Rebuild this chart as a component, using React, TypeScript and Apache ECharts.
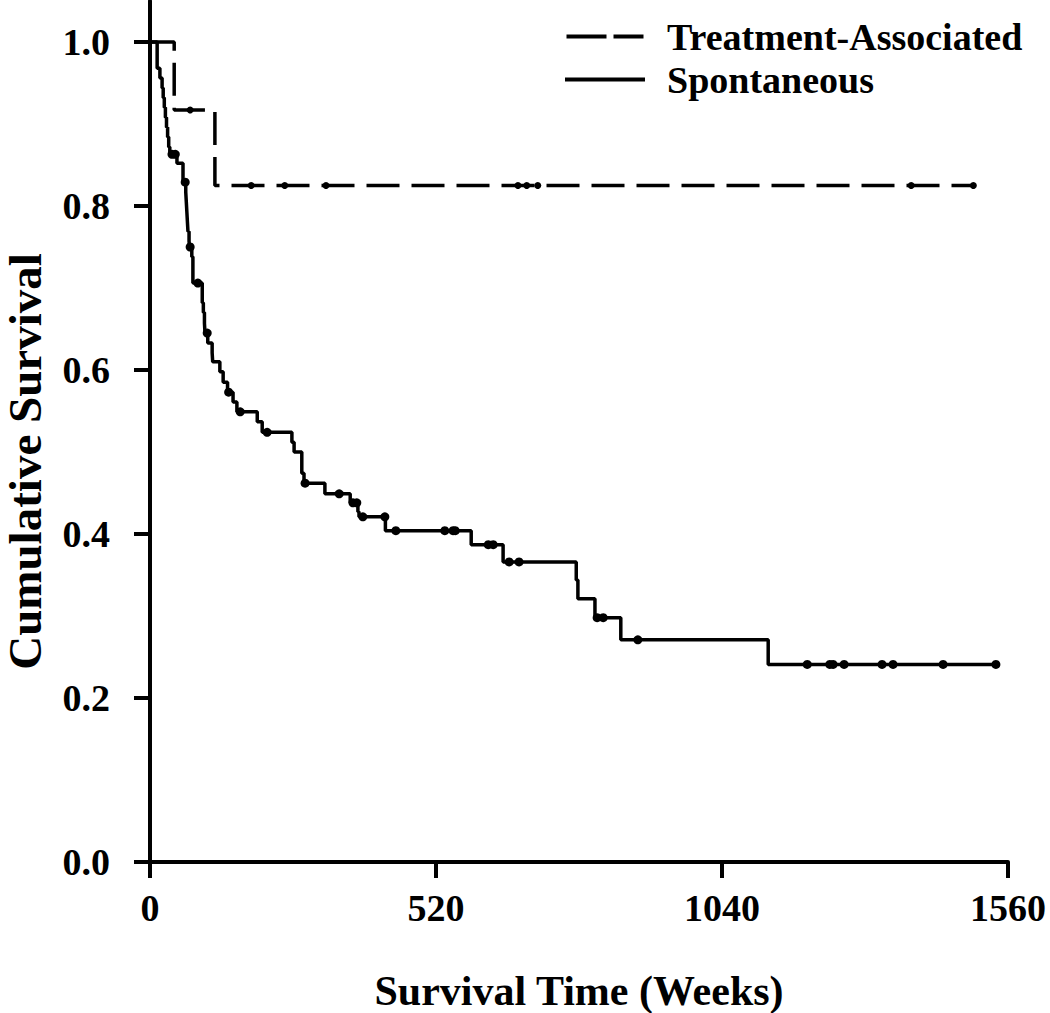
import React, { useEffect, useRef } from "react";
import * as echarts from "echarts";

// Spontaneous: event times (weeks) and survival after each step
const spontTimes = [0, 13, 18, 22, 24, 26, 28, 30, 32, 34, 36, 49, 60, 65, 66, 67, 68, 69, 71, 72, 76, 78, 95, 97, 99, 100, 105, 113, 114, 127, 133, 141, 151, 158, 195, 204, 258, 262, 276, 280, 318, 364, 378, 380, 428, 584, 642, 775, 778, 809, 856, 1124, 1538];
const spontSurv = [1.0, 0.968, 0.956, 0.944, 0.932, 0.92, 0.908, 0.896, 0.884, 0.872, 0.863, 0.852, 0.829, 0.817, 0.805, 0.793, 0.781, 0.769, 0.757, 0.75, 0.738, 0.706, 0.682, 0.67, 0.657, 0.645, 0.633, 0.621, 0.61, 0.598, 0.585, 0.573, 0.561, 0.549, 0.537, 0.524, 0.512, 0.5, 0.474, 0.462, 0.449, 0.438, 0.427, 0.421, 0.404, 0.387, 0.366, 0.344, 0.321, 0.298, 0.271, 0.241, 0.241];
const spontCensored = [40, 46, 64, 73, 87, 104, 143, 164, 213, 282, 344, 369, 376, 387, 427, 447, 536, 551, 555, 615, 624, 653, 671, 813, 824, 887, 1195, 1236, 1242, 1262, 1331, 1351, 1442, 1538];

// Treatment-Associated
const treatTimes = [0, 44, 118, 1497];
const treatSurv = [1.0, 0.917, 0.825, 0.825];
const treatCensored = [73, 184, 245, 320, 669, 685, 705, 1384, 1497];

const xTicks = [0, 520, 1040, 1560];
const yTicks = [0, 0.2, 0.4, 0.6, 0.8, 1.0];

const FONT = "'Liberation Serif', 'Times New Roman', serif";

function survAt(times: number[], surv: number[], t: number) {
  let s = surv[0];
  for (let i = 0; i < times.length; i++) {
    if (times[i] <= t) s = surv[i];
  }
  return s;
}

export default function App() {
  const ref = useRef<HTMLDivElement>(null);
  useEffect(() => {
    if (!ref.current) return;
    const chart = echarts.init(ref.current, undefined, { renderer: "svg" });
    const spontLine = spontTimes.map((t, i) => [t, spontSurv[i]]);
    const treatLine = treatTimes.map((t, i) => [t, treatSurv[i]]);
    const spontMarks = spontCensored.map((t) => [t, survAt(spontTimes, spontSurv, t)]);
    const treatMarks = treatCensored.map((t) => [t, survAt(treatTimes, treatSurv, t)]);
    chart.setOption({
      animation: false,
      backgroundColor: "#ffffff",
      grid: { left: 150, right: 42, top: 1, bottom: 151, outerBoundsMode: "none" },
      legend: {
        orient: "vertical",
        left: 560,
        top: 10,
        itemGap: 0,
        itemWidth: 80,
        itemHeight: 4,
        data: [
          { name: "Treatment-Associated", icon: "path://M0,0h40v4h-40z M47,0h30v4h-30z" },
          { name: "Spontaneous", icon: "path://M0,0h80v4h-80z" },
        ],
        itemStyle: { color: "#000", borderWidth: 0 },
        textStyle: {
          fontFamily: FONT,
          fontWeight: "bold",
          fontSize: 38,
          color: "#000",
          lineHeight: 43,
          padding: [0, 0, 0, 17],
        },
      },
      xAxis: {
        type: "value",
        min: 0,
        max: 1560,
        interval: 520,
        name: "Survival Time (Weeks)",
        nameLocation: "middle",
        nameGap: 108,
        nameTextStyle: { fontFamily: FONT, fontWeight: "bold", fontSize: 42, color: "#000" },
        splitLine: { show: false },
        axisLine: { lineStyle: { color: "#000", width: 4 } },
        axisTick: { show: true, length: 16, lineStyle: { color: "#000", width: 4 }, customValues: xTicks },
        axisLabel: {
          customValues: xTicks,
          margin: 27,
          fontFamily: FONT,
          fontWeight: "bold",
          fontSize: 38,
          color: "#000",
          formatter: (v: number) => String(v),
        },
      },
      yAxis: {
        type: "value",
        min: 0,
        max: 1.05,
        name: "Cumulative Survival",
        nameLocation: "middle",
        nameGap: 102,
        nameTextStyle: {
          fontFamily: FONT,
          fontWeight: "bold",
          fontSize: 47,
          color: "#000",
          padding: [0, 60, 0, 0],
        },
        splitLine: { show: false },
        axisLine: { lineStyle: { color: "#000", width: 4 } },
        axisTick: { show: true, length: 16, lineStyle: { color: "#000", width: 4 }, customValues: yTicks },
        axisLabel: {
          customValues: yTicks,
          margin: 40,
          fontFamily: FONT,
          fontWeight: "bold",
          fontSize: 38,
          color: "#000",
          formatter: (v: number) => v.toFixed(1),
        },
      },
      series: [
        {
          name: "Treatment-Associated",
          type: "line",
          step: "end",
          symbol: "none",
          data: treatLine,
          lineStyle: { color: "#000", width: 3.5, type: [33, 12] },
          itemStyle: { color: "#000" },
        },
        {
          name: "Spontaneous",
          type: "line",
          step: "end",
          symbol: "none",
          data: spontLine,
          lineStyle: { color: "#000", width: 3.5, type: "solid" },
          itemStyle: { color: "#000" },
        },
        {
          name: "Treatment censored",
          type: "scatter",
          symbol: "circle",
          symbolSize: 7,
          data: treatMarks,
          itemStyle: { color: "#000", opacity: 1 },
        },
        {
          name: "Spontaneous censored",
          type: "scatter",
          symbol: "circle",
          symbolSize: 9,
          data: spontMarks,
          itemStyle: { color: "#000", opacity: 1 },
        },
      ],
    });
    return () => chart.dispose();
  }, []);
  return (
    <div
      ref={ref}
      style={{ position: "absolute", left: 0, top: 0, width: 1050, height: 1013, background: "#fff" }}
    />
  );
}
